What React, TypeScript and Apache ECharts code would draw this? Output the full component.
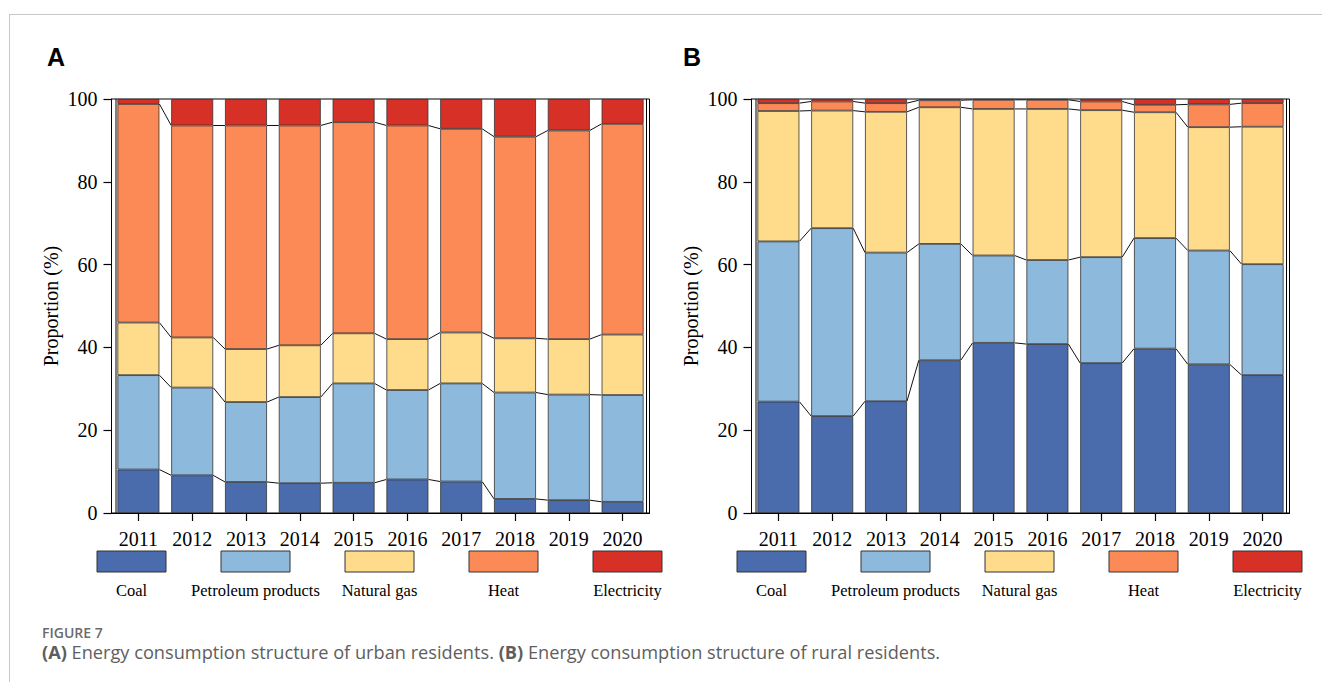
import React, { useEffect, useRef } from "react";
import * as echarts from "echarts";

const years = ["2011", "2012", "2013", "2014", "2015", "2016", "2017", "2018", "2019", "2020"];
const seriesNames = ["Coal", "Petroleum products", "Natural gas", "Heat", "Electricity"];
const colors = ["#4a6bac", "#8cb9dc", "#fedc8b", "#fc8a56", "#d73027"];

// Panel A: urban residents (%)
const urbanCoal = [10.5, 9.1, 7.5, 7.2, 7.3, 8.1, 7.6, 3.4, 3.1, 2.7];
const urbanPetroleum = [22.8, 21.2, 19.3, 20.8, 24.0, 21.6, 23.7, 25.7, 25.5, 25.8];
const urbanGas = [12.7, 12.1, 12.8, 12.5, 12.1, 12.3, 12.3, 13.1, 13.4, 14.6];
const urbanHeat = [52.8, 51.2, 54.0, 53.1, 51.0, 51.6, 49.2, 48.7, 50.4, 50.9];
const urbanElectricity = [1.2, 6.4, 6.4, 6.4, 5.6, 6.4, 7.2, 9.1, 7.6, 6.0];

// Panel B: rural residents (%)
const ruralCoal = [26.9, 23.4, 27.0, 36.9, 41.1, 40.8, 36.2, 39.7, 35.9, 33.3];
const ruralPetroleum = [38.7, 45.4, 35.9, 28.1, 21.1, 20.3, 25.6, 26.7, 27.5, 26.8];
const ruralGas = [31.5, 28.4, 34.0, 33.0, 35.4, 36.5, 35.5, 30.4, 29.8, 33.2];
const ruralHeat = [1.9, 2.2, 2.1, 1.7, 2.2, 2.2, 2.1, 1.8, 5.5, 5.7];
const ruralElectricity = [1.0, 0.6, 1.0, 0.3, 0.2, 0.2, 0.6, 1.4, 1.3, 1.0];

const yTickMin = 0;
const yTickMax = 100;
const yTickStep = 20;

const urbanData = [urbanCoal, urbanPetroleum, urbanGas, urbanHeat, urbanElectricity];
const ruralData = [ruralCoal, ruralPetroleum, ruralGas, ruralHeat, ruralElectricity];

const SERIF = "Liberation Serif";
const BAR_RATIO = 0.78;
const GRID_TOP = 99;
const GRID_H = 414;
const GRID_W = 538;
const GRID_LEFTS = [111.5, 751.5];

function connectorData(groups: number[][]) {
  const out: number[][] = [];
  const cum: number[][] = [];
  let run = groups[0].map(() => 0);
  for (let k = 0; k < groups.length - 1; k++) {
    run = run.map((r, i) => r + groups[k][i]);
    cum.push(run.slice());
  }
  cum.forEach((level) => {
    for (let i = 0; i < level.length - 1; i++) out.push([i, level[i], level[i + 1]]);
  });
  return out;
}

export default function App() {
  const ref = useRef<HTMLDivElement>(null);
  useEffect(() => {
    if (!ref.current) return;
    const chart = echarts.init(ref.current, undefined, { renderer: "svg" });

    const grids = GRID_LEFTS.map((l) => ({
      left: l,
      top: GRID_TOP,
      width: GRID_W,
      height: GRID_H,
      show: true,
      borderColor: "#000",
      borderWidth: 1,
      backgroundColor: "transparent",
    }));

    const xAxes = GRID_LEFTS.map((_, gi) => ({
      type: "category",
      gridIndex: gi,
      data: years,
      axisLine: { show: true, lineStyle: { color: "#000", width: 1 } },
      axisTick: { show: true, alignWithLabel: true, length: 8, lineStyle: { color: "#000", width: 1.2 } },
      axisLabel: { fontFamily: SERIF, fontSize: 20, color: "#000", margin: 16, interval: 0 },
      splitLine: { show: false },
    }));

    const yAxes = GRID_LEFTS.map((_, gi) => ({
      type: "value",
      gridIndex: gi,
      min: yTickMin,
      max: yTickMax,
      interval: yTickStep,
      name: "Proportion (%)",
      nameLocation: "middle",
      nameGap: 51,
      nameTextStyle: { fontFamily: SERIF, fontSize: 20, color: "#000" },
      axisLine: { show: true, lineStyle: { color: "#000", width: 1 } },
      axisTick: { show: true, inside: false, length: 8, lineStyle: { color: "#000", width: 1.2 } },
      axisLabel: { fontFamily: SERIF, fontSize: 20, color: "#000", margin: 14 },
      splitLine: { show: false },
    }));

    const series: any[] = [];
    [urbanData, ruralData].forEach((panel, gi) => {
      panel.forEach((vals, k) => {
        series.push({
          type: "bar",
          name: seriesNames[k],
          xAxisIndex: gi,
          yAxisIndex: gi,
          stack: gi === 0 ? "A" : "B",
          data: vals,
          barWidth: BAR_RATIO * 100 + "%",
          itemStyle: { color: colors[k], borderColor: "#333", borderWidth: 0.8 },
        });
      });
      series.push({
        type: "custom",
        xAxisIndex: gi,
        yAxisIndex: gi,
        data: connectorData(panel),
        encode: { x: 0, y: [1, 2] },
        z: 5,
        renderItem: (params: any, api: any) => {
          const i = api.value(0);
          const p1 = api.coord([i, api.value(1)]);
          const p2 = api.coord([i + 1, api.value(2)]);
          const w = api.size([1, 0])[0] * BAR_RATIO;
          return {
            type: "line",
            shape: { x1: p1[0] + w / 2, y1: p1[1], x2: p2[0] - w / 2, y2: p2[1] },
            style: { stroke: "#111", lineWidth: 1 },
          };
        },
      });
    });

    const graphics: any[] = [];
    // page frame lines
    graphics.push({ type: "line", shape: { x1: 9, y1: 14.5, x2: 1322, y2: 14.5 }, style: { stroke: "#c8c8c8", lineWidth: 1 } });
    graphics.push({ type: "line", shape: { x1: 9.5, y1: 14.5, x2: 9.5, y2: 682 }, style: { stroke: "#c8c8c8", lineWidth: 1 } });
    // panel letters
    ["A", "B"].forEach((t, gi) => {
      graphics.push({
        type: "text",
        x: gi === 0 ? 47 : 683,
        y: 57,
        style: { text: t, font: "bold 25px 'Liberation Sans'", fill: "#000", verticalAlign: "middle" },
      });
    });
    GRID_LEFTS.forEach((l) => {
      // inner double frame lines
      graphics.push({ type: "line", shape: { x1: l + 4.5, y1: GRID_TOP, x2: l + 4.5, y2: GRID_TOP + GRID_H }, style: { stroke: "#000", lineWidth: 1 } });
      graphics.push({ type: "line", shape: { x1: l + GRID_W - 3, y1: GRID_TOP, x2: l + GRID_W - 3, y2: GRID_TOP + GRID_H }, style: { stroke: "#000", lineWidth: 1 } });
      // legend
      seriesNames.forEach((n, k) => {
        const bx = l - 14.5 + k * 124;
        graphics.push({
          type: "rect",
          shape: { x: bx, y: 551, width: 69, height: 21 },
          style: { fill: colors[k], stroke: "#333", lineWidth: 1 },
        });
        graphics.push({
          type: "text",
          x: bx + 34.5,
          y: 590,
          style: { text: n, font: `16.5px '${SERIF}'`, fill: "#000", align: "center", verticalAlign: "middle" },
        });
      });
    });
    // caption
    graphics.push({
      type: "text",
      x: 42,
      y: 632,
      style: { text: "FIGURE 7", font: "600 14px 'Open Sans'", lineHeight: 15, fill: "#6b6b6b", verticalAlign: "middle" },
    });
    graphics.push({
      type: "text",
      x: 42,
      y: 652,
      style: {
        text: "{b|(A)} Energy consumption structure of urban residents. {b|(B)} Energy consumption structure of rural residents.",
        font: "18.2px 'Open Sans'",
        lineHeight: 19,
        fill: "#5e5e5e",
        verticalAlign: "middle",
        rich: {
          b: { fontFamily: "Open Sans", fontSize: 18.2, lineHeight: 19, fontWeight: "bold", fill: "#5e5e5e" },
        },
      },
    });

    chart.setOption({
      animation: false,
      backgroundColor: "#fff",
      grid: grids,
      xAxis: xAxes,
      yAxis: yAxes,
      series,
      graphic: graphics,
    });
    return () => chart.dispose();
  }, []);
  return <div ref={ref} style={{ position: "fixed", left: 0, top: 0, width: 1322, height: 682 }} />;
}
